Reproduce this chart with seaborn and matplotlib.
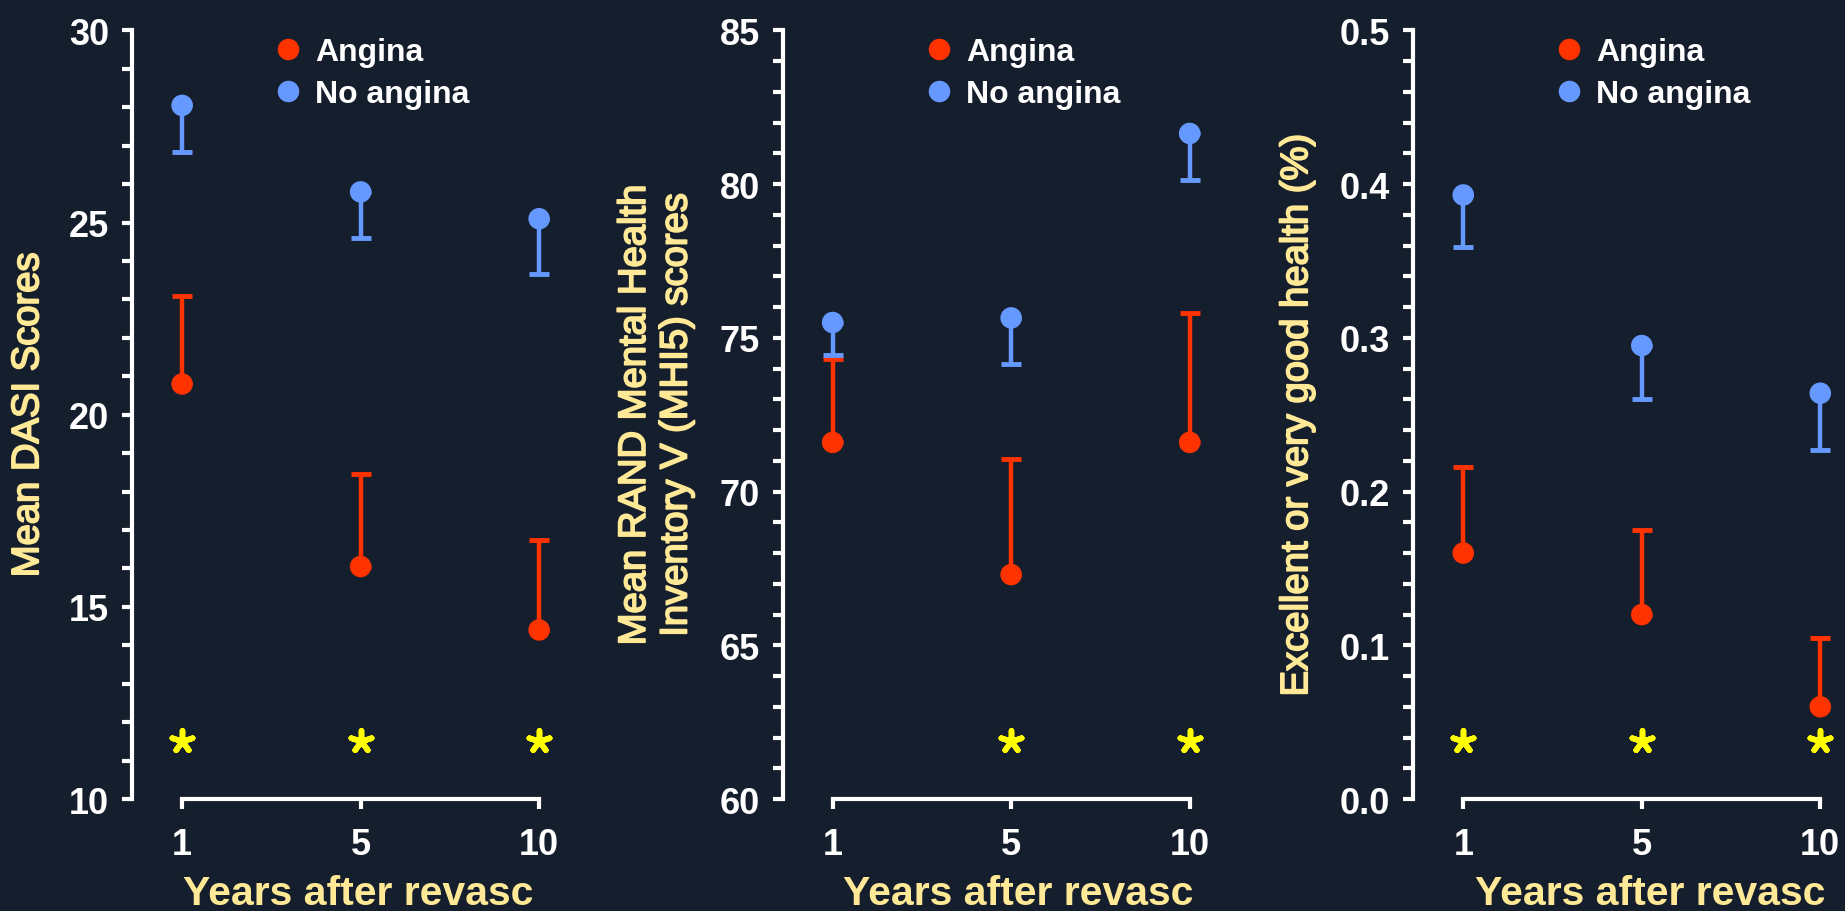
import numpy as np
import pandas as pd
import matplotlib
matplotlib.use('Agg')
import matplotlib.pyplot as plt
import matplotlib.transforms as mtransforms
import matplotlib.patheffects as pe
from matplotlib.ticker import MultipleLocator
import seaborn as sns

# values
years = ['1', '5', '10']
groups = ['Angina', 'No angina']

dasi_angina = [20.8, 16.05, 14.4]
dasi_angina_err = [2.3, 2.4, 2.33]
dasi_none = [28.05, 25.8, 25.1]
dasi_none_err = [1.2, 1.2, 1.45]
dasi_sig = [True, True, True]

mhi5_angina = [71.6, 67.3, 71.6]
mhi5_angina_err = [2.7, 3.75, 4.2]
mhi5_none = [75.5, 75.65, 81.65]
mhi5_none_err = [1.05, 1.5, 1.5]
mhi5_sig = [False, True, True]

health_angina = [0.160, 0.120, 0.060]
health_angina_err = [0.056, 0.055, 0.045]
health_none = [0.393, 0.295, 0.264]
health_none_err = [0.034, 0.035, 0.037]
health_sig = [True, True, True]

ylabels = ['Mean DASI Scores',
           'Mean RAND Mental Health\nInventory V (MHI5) scores',
           'Excellent or very good health (%)']
ylims = [(10, 30), (60, 85), (0.0, 0.5)]
major_steps = [5, 5, 0.1]
minor_steps = [1, 1, 0.02]

BG = '#151e2d'
RED = '#ff3300'
BLUE = '#6699ff'
LABEL = '#ffe896'
STAR = '#ffff00'

sns.set_theme(style='ticks')
plt.rcParams['font.family'] = ['Liberation Sans', 'DejaVu Sans']

fig = plt.figure(figsize=(18.45, 9.12), dpi=100, facecolor=BG)

panels = [
    (dasi_angina, dasi_angina_err, dasi_none, dasi_none_err, dasi_sig),
    (mhi5_angina, mhi5_angina_err, mhi5_none, mhi5_none_err, mhi5_sig),
    (health_angina, health_angina_err, health_none, health_none_err, health_sig),
]
lefts = [0.0716, 0.4242, 0.7660]
ylabel_x = [-0.230, -0.281, -0.257]
xlabel_x = [0.5, 0.522, 0.525]

for i, (a_mean, a_err, n_mean, n_err, sig) in enumerate(panels):
    ax = fig.add_axes([lefts[i], 0.1228, 0.2448, 0.8427])
    ax.set_facecolor(BG)
    pos = np.arange(len(years))

    df = pd.DataFrame({
        'pos': np.concatenate([pos, pos]),
        'value': a_mean + n_mean,
        'group': [groups[0]] * len(years) + [groups[1]] * len(years),
    })

    # one-sided error bars: angina up, no angina down
    ax.errorbar(pos, a_mean, yerr=[np.zeros(len(years)), a_err], fmt='none',
                ecolor=RED, elinewidth=3.2, capsize=7.5, capthick=3.5, zorder=2)
    ax.errorbar(pos, n_mean, yerr=[n_err, np.zeros(len(years))], fmt='none',
                ecolor=BLUE, elinewidth=3.2, capsize=7.5, capthick=3.5, zorder=2)

    sns.scatterplot(data=df, x='pos', y='value', hue='group',
                    palette=[RED, BLUE], s=240, linewidth=0, ax=ax, zorder=3)

    # significance stars
    trans = mtransforms.blended_transform_factory(ax.transData, ax.transAxes)
    star_x = [p for p, s in zip(pos, sig) if s]
    ax.scatter(star_x, [0.075] * len(star_x), transform=trans, marker=(5, 2, 0),
               s=240, color=STAR, linewidths=4, zorder=3)

    ax.set_xlim(-0.28, 2.25)
    ax.set_ylim(*ylims[i])
    ax.set_xticks(pos)
    ax.set_xticklabels(years)
    ax.yaxis.set_major_locator(MultipleLocator(major_steps[i]))
    ax.yaxis.set_minor_locator(MultipleLocator(minor_steps[i]))

    sns.despine(ax=ax, trim=False)
    ax.spines['bottom'].set_bounds(0, len(years) - 1)
    ax.spines['left'].set_bounds(*ylims[i])
    for sp in ['left', 'bottom']:
        ax.spines[sp].set_color('white')
        ax.spines[sp].set_linewidth(3)

    ax.tick_params(axis='both', which='both', colors='white', width=3, length=7.5)
    ax.tick_params(axis='y', which='major', pad=9, labelsize=26)
    ax.tick_params(axis='x', which='major', pad=12.5, labelsize=26)
    for lab in ax.get_xticklabels() + ax.get_yticklabels():
        lab.set_fontweight('bold')
        lab.set_color('white')

    ax.set_xlabel('Years after revasc', fontsize=29.5, fontweight='bold',
                  color=LABEL, labelpad=8.5)
    ax.xaxis.label.set_x(xlabel_x[i])
    ax.set_ylabel(ylabels[i], fontsize=27.5, color=LABEL, va='center')
    ax.yaxis.label.set_path_effects([pe.withStroke(linewidth=1.3, foreground=LABEL)])
    ax.yaxis.set_label_coords(ylabel_x[i], 0.5)

    sns.move_legend(ax, 'upper left', bbox_to_anchor=(0.31, 0.991), frameon=False,
                    title=None, fontsize=23, borderpad=0, borderaxespad=0,
                    handlelength=1.0, handletextpad=0.35, labelspacing=0.36,
                    markerscale=1.0)
    leg = ax.get_legend()
    for t in leg.get_texts():
        t.set_color('white')
        t.set_fontweight('bold')

fig.savefig('out.png', dpi=100, facecolor=BG)
